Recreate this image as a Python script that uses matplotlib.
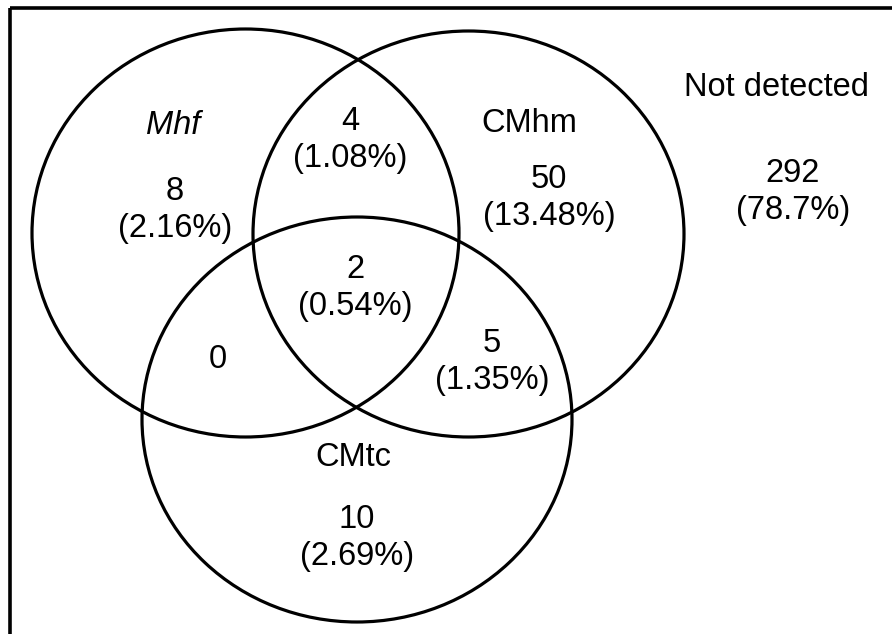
import matplotlib
matplotlib.use("Agg")
import matplotlib.pyplot as plt
from matplotlib.patches import Ellipse

plt.rcParams['font.family'] = ['Liberation Sans', 'DejaVu Sans']

# ---- data ----
set_names = ["Mhf", "CMhm", "CMtc"]
regions = ["Mhf only", "Mhf&CMhm", "CMhm only", "all", "Mhf&CMtc", "CMhm&CMtc", "CMtc only", "Not detected"]
counts = [8, 4, 50, 2, 0, 5, 10, 292]
percents = ["2.16%", "1.08%", "13.48%", "0.54%", None, "1.35%", "2.69%", "78.7%"]

# ---- layout (pixel coordinates) ----
W, H = 892, 634
fig = plt.figure(figsize=(W / 100, H / 100), dpi=100)
ax = fig.add_axes([0, 0, 1, 1])
ax.set_xlim(0, W)
ax.set_ylim(H, 0)
ax.axis('off')

circles = [((245.5, 233), 427, 408), ((468.5, 234), 431, 406), ((357, 419.5), 430, 405)]
for (c, w, h) in circles:
    ax.add_patch(Ellipse(c, w, h, fill=False, edgecolor='black', lw=2.3))

# frame (top and left edges visible, others cropped)
ax.plot([10, W + 5], [8, 8], color='black', lw=2.6, solid_capstyle='butt')
ax.plot([10, 10], [8, H + 5], color='black', lw=2.6, solid_capstyle='butt')

fs = 23.5
name_pos = [(173, 126), (529, 123), (353, 457)]
for name, (x, y) in zip(set_names, name_pos):
    if name == "Mhf":
        ax.text(x, y, name, fontsize=fs, style='italic', ha='center', va='center')
    else:
        ax.text(x, y, name, fontsize=fs, ha='center', va='center')

ax.text(776, 88, "Not detected", fontsize=fs, ha='center', va='center')

count_pos = [(175, 191), (350, 121), (549, 180), (355, 270), (218, 360), (492, 343), (357, 520), (793, 173)]
for cnt, pct, (x, y) in zip(counts, percents, count_pos):
    ax.text(x, y, str(cnt), fontsize=fs, ha='center', va='center')
    if pct is not None:
        ax.text(x, y + 37, "(" + pct + ")", fontsize=fs, ha='center', va='center')

fig.savefig("out.png", dpi=100)
